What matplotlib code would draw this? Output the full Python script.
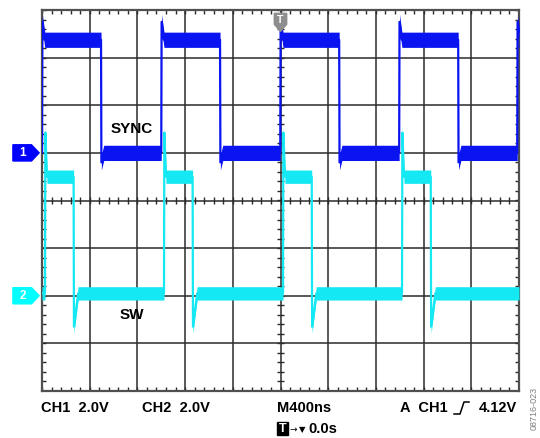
#!/usr/bin/env python3
"""
Scope capture redraw: SYNC (CH1) and SW (CH2) waveforms on a 10x8 graticule.
"""

import matplotlib
matplotlib.use("Agg")
import matplotlib.pyplot as plt
from matplotlib.patches import Polygon, Rectangle
from matplotlib.lines import Line2D
import numpy as np

# Scope settings
ns_per_div = 400
ch1_volts_per_div = 2.0
ch2_volts_per_div = 2.0
ch1_ground_div = 1.0
ch2_ground_div = -2.0

# CH1 - SYNC edge times (ns) and levels (V)
sync_rise_ns = [0, 1000, 1998, 2995, 3985]
sync_fall_ns = [495, 1493, 2492, 3490]
sync_levels_v = [0.0, 4.75]      # low, high
sync_spike_v = [-0.4, 5.5]       # undershoot after fall, overshoot after rise
sync_settle_ns = [20, 20]
sync_noise_v = 0.32

# CH2 - SW edge times (ns) and levels (V)
sw_rise_ns = [25, 1023, 2021, 3019]
sw_fall_ns = [265, 1263, 2262, 3260]
sw_levels_v = [0.1, 5.0]
sw_spike_v = [-1.3, 6.85]
sw_settle_ns = [35, 14]
sw_noise_v = 0.28

# Readout text
readout_ch1 = "CH1  2.0V"
readout_ch2 = "CH2  2.0V"
readout_time = "M400ns"
readout_trig_src = "A  CH1"
readout_trig_lvl = "4.12V"
readout_delay = "0.0s"
figure_id = "08716-023"

W, H = 540, 438
BLUE = "#0a14f0"
CYAN = "#14e8f2"
GRID = "#2b2b2b"
BOLD = dict(family="Liberation Sans", fontweight="bold")


def build_trace(rise, fall, levels, spikes, settle, t_end=4000):
    """Piecewise-linear trace from edge times"""
    edges = sorted([(t, 1) for t in rise] + [(t, 0) for t in fall])
    level = levels[1] if edges[0][1] == 0 else levels[0]
    t_pts, v_pts = [0], [level]
    for t, up in edges:
        t_pts += [t, t + 3, t + 3 + settle[up]]
        v_pts += [level, spikes[up], levels[up]]
        level = levels[up]
    t_pts.append(t_end)
    v_pts.append(level)
    return np.array(t_pts, float), np.array(v_pts, float)


def px(x, y):
    """pixel position -> figure fraction"""
    return x / W, 1 - y / H


fig = plt.figure(figsize=(W / 100, H / 100), dpi=100)
ax = fig.add_axes([42 / W, 1 - 391 / H, 477 / W, 381 / H])
ax.set_xlim(0, 10)
ax.set_ylim(-4, 4)
ax.set_xticks([])
ax.set_yticks([])
for s in ax.spines.values():
    s.set_color("#505050")
    s.set_linewidth(1.6)

# Graticule
for x in range(1, 10):
    ax.axvline(x, color=GRID, lw=1.1, zorder=1)
for y in range(-3, 4):
    ax.axhline(y, color=GRID, lw=1.1, zorder=1)

tk = 0.085
ctk = 0.065
minor_x = np.arange(0, 10.001, 0.2)
minor_y = np.arange(-4, 4.001, 0.2)
kw = dict(color=GRID, lw=1.0, zorder=1)
ax.vlines(minor_x, 4 - tk, 4, **kw)
ax.vlines(minor_x, -4, -4 + tk, **kw)
ax.vlines(minor_x, -ctk, ctk, **kw)
ax.hlines(minor_y, 0, tk, **kw)
ax.hlines(minor_y, 10 - tk, 10, **kw)
ax.hlines(minor_y, 5 - ctk, 5 + ctk, **kw)

# Traces
traces = [
    (sync_rise_ns, sync_fall_ns, sync_levels_v, sync_spike_v, sync_settle_ns,
     sync_noise_v, ch1_volts_per_div, ch1_ground_div, BLUE),
    (sw_rise_ns, sw_fall_ns, sw_levels_v, sw_spike_v, sw_settle_ns,
     sw_noise_v, ch2_volts_per_div, ch2_ground_div, CYAN),
]
for rise, fall, lv, sp, st, noise, vpd, gnd, col in traces:
    t, v = build_trace(rise, fall, lv, sp, st)
    xd = t / ns_per_div
    yd = v / vpd + gnd
    nd = noise / vpd
    ax.fill_between(xd, yd - nd, yd + nd, color=col, lw=0, zorder=3)
    ax.plot(xd, yd, color=col, lw=1.6, zorder=3)

# Trace labels
ax.text(1.88, 1.5, "SYNC", fontsize=11, ha="center", va="center", zorder=5, **BOLD)
ax.text(1.88, -2.4, "SW", fontsize=11, ha="center", va="center", zorder=5, **BOLD)

# Channel ground markers
for gnd, label, col in [(ch1_ground_div, "1", "#0000ff"), (ch2_ground_div, "2", "#00ffff")]:
    pts = [(-0.61, gnd - 0.17), (-0.22, gnd - 0.17), (-0.06, gnd),
           (-0.22, gnd + 0.17), (-0.61, gnd + 0.17)]
    ax.add_patch(Polygon(pts, closed=True, color=col, clip_on=False, zorder=6))
    ax.text(-0.4, gnd, label, color="white", fontsize=8.5, ha="center",
            va="center", clip_on=False, zorder=7, **BOLD)

# Trigger position marker
tpts = [(4.87, 3.93), (5.13, 3.93), (5.13, 3.7), (5.0, 3.55), (4.87, 3.7)]
ax.add_patch(Polygon(tpts, closed=True, color="#8e8e8e", clip_on=False, zorder=6))
ax.text(5.0, 3.79, "T", color="white", fontsize=7.5, ha="center", va="center",
        zorder=7, **BOLD)

# Readout line
for x, s in [(41, readout_ch1), (142, readout_ch2), (277, readout_time),
             (400, readout_trig_src)]:
    fig.text(*px(x, 408), s, fontsize=10.5, ha="left", va="center", **BOLD)
fig.text(*px(517, 408), readout_trig_lvl, fontsize=10.5, ha="right", va="center", **BOLD)

# trigger slope symbol
sx, sy = zip(*[px(454, 414), px(460, 414), px(464, 402), px(469, 402)])
fig.add_artist(Line2D(sx, sy, color="black", lw=1.1, transform=fig.transFigure))

# delay line
fig.add_artist(Rectangle(px(277, 435), 11 / W, 13 / H, color="black",
                         transform=fig.transFigure))
fig.text(*px(282.5, 428.5), "T", color="white", fontsize=9, ha="center", va="center", **BOLD)
fig.text(*px(293.5, 429), "\u2192", fontsize=6.5, ha="center", va="center")
fig.text(*px(302, 430), "\u25bc", fontsize=6, ha="center", va="center")
fig.text(*px(308, 429), readout_delay, fontsize=10.5, ha="left", va="center", **BOLD)

# figure id at the right edge
fig.text(*px(534, 408), figure_id, fontsize=6.5, color="#808080", rotation=90,
         ha="center", va="center", family="Liberation Sans")

fig.savefig("out.png", dpi=100)
